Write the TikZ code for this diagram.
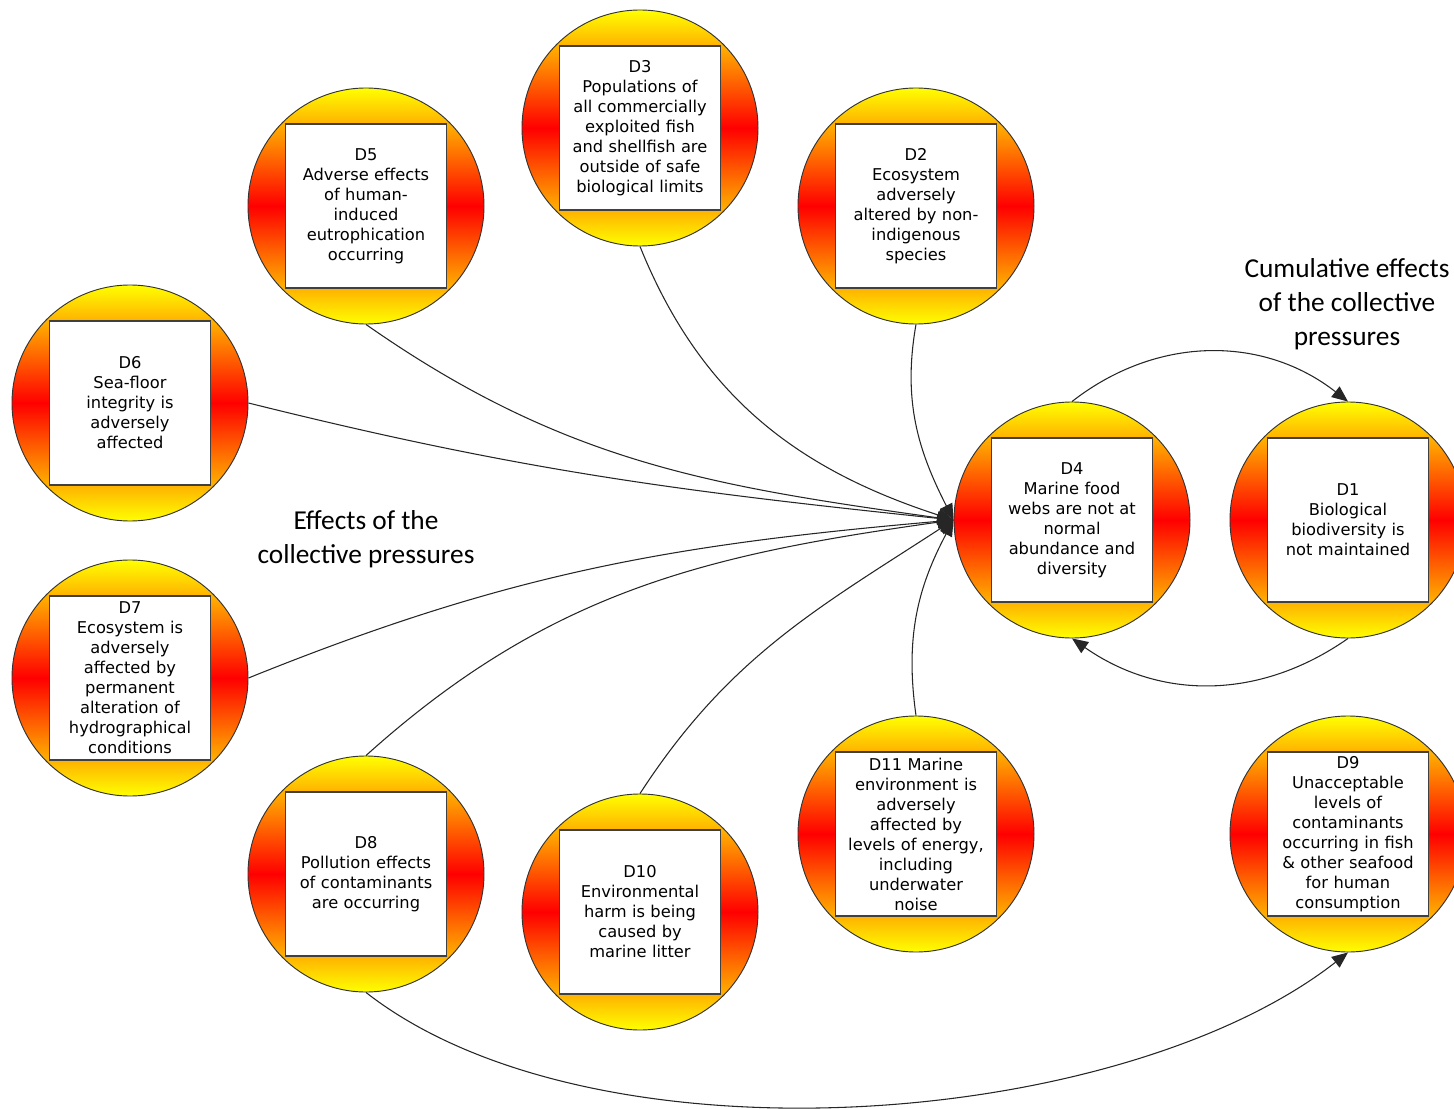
\documentclass[tikz,border=0pt]{standalone}
\usepackage{fontspec}
\usetikzlibrary{arrows.meta}
\newfontfamily\boxfont{DejaVu Sans}
\newfontfamily\notefont{Carlito}

\begin{document}
\begin{tikzpicture}[x=0.75pt,y=0.75pt,
  dcircle/.style={circle,draw=black!80,line width=0.7pt,minimum size=177pt,inner sep=0pt,
    top color=yellow,bottom color=yellow,middle color=red},
  dbox/.style={rectangle,draw=black!75,line width=1.2pt,fill=white,text width=118pt,
    inner sep=1.5pt,minimum height=123pt,align=center,font=\boxfont\fontsize{12.2}{15}\selectfont},
  link/.style={draw=black!85,line width=0.8pt,-{Triangle[length=12pt,width=10pt]}},
  note/.style={align=center,font=\notefont\fontsize{20.5}{25.5}\selectfont}]

\useasboundingbox (0,0) rectangle (1454,-1109);
\clip (0,0) rectangle (1454,-1109);

%draw circles
\node (d3) [dcircle] at (640,-128) {};
\node (d5) [dcircle] at (366,-206) {};
\node (d2) [dcircle] at (916,-206) {};
\node (d6) [dcircle] at (130,-403) {};
\node (d7) [dcircle] at (130,-678) {};
\node (d8) [dcircle] at (366,-874) {};
\node (d10) [dcircle] at (640,-912) {};
\node (d11) [dcircle] at (916,-834) {};
\node (d4) [dcircle] at (1072,-520) {};
\node (d1) [dcircle] at (1348,-520) {};
\node (d9) [dcircle] at (1348,-834) {};

%draw boxes with the descriptors
\node (d3box) [dbox] at (d3) {D3\\Populations of\\all commercially\\exploited fish\\and shellfish are\\outside of safe\\biological limits};
\node (d5box) [dbox] at (d5) {D5\\Adverse effects\\of human-\\induced\\eutrophication\\occurring};
\node (d2box) [dbox] at (d2) {D2\\Ecosystem\\adversely\\altered by non-\\indigenous\\species};
\node (d6box) [dbox] at (d6) {D6\\Sea-floor\\integrity is\\adversely\\affected};
\node (d7box) [dbox] at (d7) {D7\\Ecosystem is\\adversely\\affected by\\permanent\\alteration of\\hydrographical\\conditions};
\node (d8box) [dbox] at (d8) {D8\\Pollution effects\\of contaminants\\are occurring};
\node (d10box) [dbox] at (d10) {D10\\Environmental\\harm is being\\caused by\\marine litter};
\node (d11box) [dbox] at (d11) {D11 Marine\\environment is\\adversely\\affected by\\levels of energy,\\including\\underwater\\noise};
\node (d4box) [dbox] at (d4) {D4\\Marine food\\webs are not at\\normal\\abundance and\\diversity};
\node (d1box) [dbox] at (d1) {D1\\Biological\\biodiversity is\\not maintained};
\node (d9box) [dbox] at (d9) {D9\\Unacceptable\\levels of\\contaminants\\occurring in fish\\\& other seafood\\for human\\consumption};

%labels
\node (effects) [note] at (366,-539) {Effects of the\\collective pressures};
\node (cumul) [note] at (1347,-304) {Cumulative effects\\of the collective\\pressures};

%links into D4
\draw[link] (d5.south) to[out=-35,in=172] (d4.west);
\draw[link] (d3.south) to[out=-68,in=162] (d4.west);
\draw[link] (d2.south) to[out=-100,in=117] (d4.west);
\draw[link] (d6.east) to[out=-14,in=174] (d4.west);
\draw[link] (d7.east) to[out=22,in=185] (d4.west);
\draw[link] (d8.north) to[out=42,in=188] (d4.west);
\draw[link] (d10.north) to[out=57,in=213] (d4.west);
\draw[link] (d11.north) to[out=98,in=242] (d4.west);

%cumulative loop and D8 to D9
\draw[link] (d4.north) to[out=38,in=142] (d1.north);
\draw[link] (d1.south) to[out=-145,in=-35] (d4.south);
\draw[link] (d8.south) to[out=-38,in=-142,looseness=0.75] (d9.south);
\end{tikzpicture}
\end{document}
